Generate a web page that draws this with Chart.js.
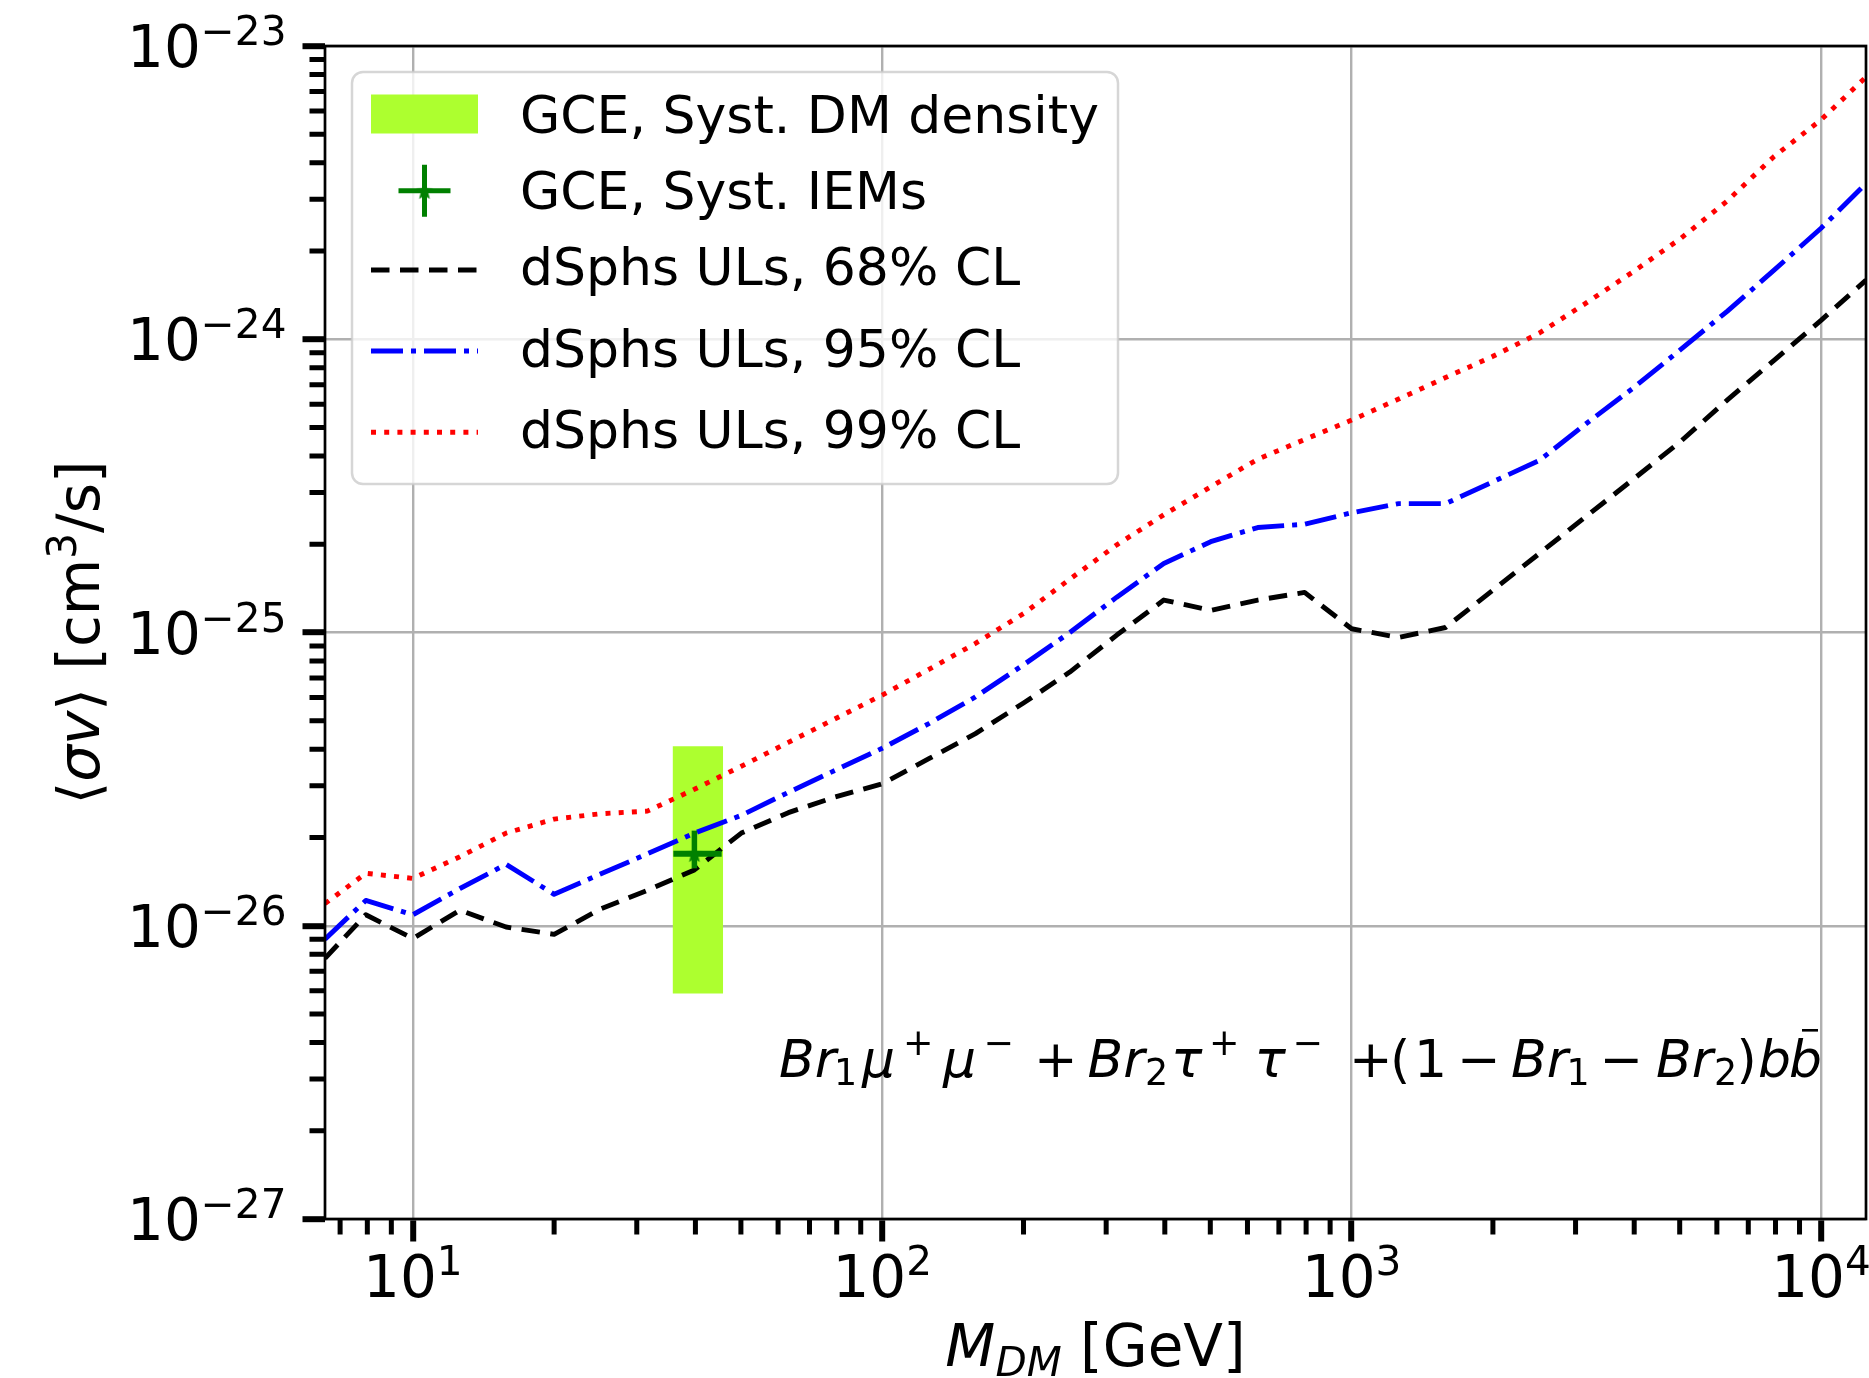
<!DOCTYPE html>
<html>
<head>
<meta charset="utf-8">
<title>dSphs ULs vs GCE</title>
<script src="https://cdn.jsdelivr.net/npm/chart.js@4.4.1/dist/chart.umd.min.js"></script>
<style>
  html, body { margin: 0; padding: 0; background: #fff; }
  #wrap { width: 1869px; height: 1378px; }
</style>
</head>
<body>
<div id="wrap"><canvas id="chart" width="1869" height="1378"></canvas></div>
<script>
// values (GeV, cm^3/s)
var masses = [6.5, 7.94, 10, 12.6, 15.8, 20, 25.1, 31.6, 39.8, 50.1, 63.1, 79.4, 100, 126, 158, 200, 251, 316,
  398, 501, 631, 794, 1000, 1259, 1585, 1995, 2512, 3162, 3981, 5012, 6310, 7943, 10000, 12470];

var ul68 = [7.75e-27, 1.09e-26, 9.05e-27, 1.13e-26, 9.9e-27, 9.35e-27, 1.14e-26, 1.32e-26, 1.55e-26, 2.07e-26,
  2.43e-26, 2.75e-26, 3.05e-26, 3.72e-26, 4.52e-26, 5.75e-26, 7.33e-26, 9.8e-26, 1.29e-25, 1.19e-25, 1.29e-25,
  1.37e-25, 1.03e-25, 9.62e-26, 1.04e-25, 1.39e-25, 1.86e-25, 2.49e-25, 3.33e-25, 4.47e-25, 6.2e-25, 8.47e-25,
  1.16e-24, 1.59e-24];

var ul95 = [9.0e-27, 1.22e-26, 1.09e-26, 1.34e-26, 1.62e-26, 1.28e-26, 1.5e-26, 1.76e-26, 2.07e-26, 2.38e-26,
  2.85e-26, 3.39e-26, 4.03e-26, 4.9e-26, 6.03e-26, 7.76e-26, 1.0e-25, 1.32e-25, 1.72e-25, 2.04e-25, 2.28e-25,
  2.34e-25, 2.56e-25, 2.75e-25, 2.75e-25, 3.26e-25, 3.86e-25, 5.16e-25, 6.82e-25, 9.2e-25, 1.245e-24, 1.72e-24,
  2.39e-24, 3.40e-24];

var ul99 = [1.19e-26, 1.51e-26, 1.45e-26, 1.72e-26, 2.07e-26, 2.31e-26, 2.41e-26, 2.46e-26, 2.92e-26, 3.5e-26,
  4.22e-26, 5.08e-26, 6.12e-26, 7.5e-26, 9.18e-26, 1.16e-25, 1.52e-25, 1.99e-25, 2.52e-25, 3.14e-25, 3.9e-25,
  4.55e-25, 5.3e-25, 6.25e-25, 7.4e-25, 8.73e-25, 1.05e-24, 1.33e-24, 1.70e-24, 2.2e-24, 2.96e-24, 4.2e-24,
  5.6e-24, 7.84e-24];

// GCE band (DM density systematics) and IEM error bar
var bandMass = [35.8, 45.8];
var bandSv = [5.87e-27, 4.09e-26];
var iemMass = 39.8;
var iemMassErr = [35.9, 45.5];
var iemSv = 1.76e-26;
var iemSvErr = [1.57e-26, 2.11e-26];

var xTickExps = [1, 2, 3, 4];
var yTickExps = [-27, -26, -25, -24, -23];
var xRange = [6.5, 12470];
var yRange = [1e-27, 1e-23];

var seriesLabels = ['GCE, Syst. DM density', 'GCE, Syst. IEMs', 'dSphs ULs, 68% CL', 'dSphs ULs, 95% CL', 'dSphs ULs, 99% CL'];

var FONT = '"DejaVu Sans", "Liberation Sans", sans-serif';
var GREEN = '#008000';
var LIME = '#adff2f';

function pts(xs, ys) {
  return xs.map(function (x, i) { return {x: x, y: ys[i]}; });
}

var starImg = (function () {
  var c = document.createElement('canvas');
  c.width = 20; c.height = 20;
  var g = c.getContext('2d');
  g.fillStyle = GREEN;
  g.beginPath();
  for (var i = 0; i < 10; i++) {
    var r = i % 2 ? 4 : 9.2;
    var a = -Math.PI / 2 + i * Math.PI / 5;
    g.lineTo(10 + r * Math.cos(a), 10.8 + r * Math.sin(a));
  }
  g.closePath();
  g.fill();
  return c;
})();

var lineStyles = [
  {label: seriesLabels[2], data: ul68, color: '#000000', dash: [18.5, 10.5]},
  {label: seriesLabels[3], data: ul95, color: '#0000ff', dash: [32, 8, 5, 8]},
  {label: seriesLabels[4], data: ul99, color: '#ff0000', dash: [5, 8.2]}
];

var datasets = [{
  label: seriesLabels[0],
  data: [
    {x: bandMass[0], y: bandSv[0]}, {x: bandMass[1], y: bandSv[0]},
    {x: bandMass[1], y: bandSv[1]}, {x: bandMass[0], y: bandSv[1]}
  ],
  showLine: true,
  fill: 'shape',
  backgroundColor: LIME,
  borderColor: 'rgba(0,0,0,0)',
  borderWidth: 0,
  pointRadius: 0,
  order: 10
}];

lineStyles.forEach(function (s) {
  datasets.push({
    label: s.label,
    data: pts(masses, s.data),
    showLine: true,
    borderColor: s.color,
    borderWidth: 4.9,
    borderDash: s.dash,
    borderJoinStyle: 'round',
    pointRadius: 0,
    fill: false,
    order: 5
  });
});

// error bar drawn as two short segments plus a star marker
datasets.push({
  label: seriesLabels[1],
  data: [{x: iemMassErr[0], y: iemSv}, {x: iemMassErr[1], y: iemSv}],
  showLine: true, borderColor: GREEN, borderWidth: 6, pointRadius: 0, fill: false, order: 1
});
datasets.push({
  label: seriesLabels[1],
  data: [{x: iemMass, y: iemSvErr[0]}, {x: iemMass, y: iemSvErr[1]}],
  showLine: true, borderColor: GREEN, borderWidth: 5.5, pointRadius: 0, fill: false, order: 1
});
datasets.push({
  label: seriesLabels[1],
  data: [{x: iemMass, y: iemSv}],
  pointStyle: starImg, pointRadius: 9, order: 0
});

// ---- text helpers (mathtext-like runs) ----
function fontOf(r) {
  return (r.it ? 'italic ' : '') + r.size + 'px ' + FONT;
}
function runsWidth(ctx, runs) {
  var w = 0;
  runs.forEach(function (r) {
    ctx.font = fontOf(r);
    w += ctx.measureText(r.t).width;
  });
  return w;
}
function drawRuns(ctx, runs, x, y) {
  runs.forEach(function (r) {
    ctx.font = fontOf(r);
    ctx.fillText(r.t, x, y + (r.dy || 0));
    x += ctx.measureText(r.t).width;
  });
}
function powerRuns(e, size) {
  return [
    {t: '10', size: size},
    {t: (e < 0 ? '\u2212' : '') + Math.abs(e), size: size * 0.7, dy: -size * 0.38}
  ];
}

var TICK_FS = 58, TITLE_FS = 58, LEG_FS = 52, NOTE_FS = 52;

// channel annotation: glyph runs with the ink start of each run (px from the left end)
var NOTE_X = 780, NOTE_Y = 1077;
var noteRuns = [
  ['Br', 'it', 0], ['1', 'sub', 58], ['\u03BC', 'it', 81], ['+', 'sup', 126], ['\u03BC', 'it', 162], ['\u2212', 'sup', 206.5],
  ['+', '', 259],
  ['Br', 'it', 308.5], ['2', 'sub', 367], ['\u03C4', 'it', 395], ['+', 'sup', 432], ['\u03C4', 'it', 478.5], ['\u2212', 'sup', 515.5],
  ['+', '', 574],
  ['(', '', 614], ['1', '', 639], ['\u2212', '', 682], ['Br', 'it', 732], ['1', 'sub', 790.5], ['\u2212', '', 824.5],
  ['Br', 'it', 877], ['2', 'sub', 936], [')', '', 960.5], ['b', 'it', 979], ['b', 'itbar', 1010]
];

function drawNote(ctx) {
  var S = NOTE_FS;
  noteRuns.forEach(function (r) {
    var kind = r[1];
    var small = kind === 'sub' || kind === 'sup';
    var size = small ? S * 0.7 : S;
    ctx.font = (kind.indexOf('it') === 0 ? 'italic ' : '') + size + 'px ' + FONT;
    var m = ctx.measureText(r[0]);
    var x = NOTE_X + r[2] + m.actualBoundingBoxLeft;
    var y = NOTE_Y + (kind === 'sub' ? 8 : kind === 'sup' ? -22 : 0);
    ctx.fillText(r[0], x, y);
    if (kind === 'itbar') {
      ctx.fillRect(NOTE_X + r[2] + 12, NOTE_Y - 48, 16, 2.6);
    }
  });
}

var axisDecor = {
  id: 'axisDecor',
  afterDatasetsDraw: function (chart) {
    var ctx = chart.ctx, a = chart.chartArea;
    ctx.save();
    ctx.lineWidth = 2.7;
    ctx.strokeStyle = '#000';
    ctx.strokeRect(a.left, a.top, a.right - a.left, a.bottom - a.top);
    ctx.restore();
  },
  afterDraw: function (chart) {
    var ctx = chart.ctx, a = chart.chartArea;
    var xs = chart.scales.x, ys = chart.scales.y;
    ctx.save();
    ctx.fillStyle = '#000';
    ctx.strokeStyle = '#000';

    // minor ticks
    ctx.lineWidth = 5;
    ctx.beginPath();
    for (var e = 0; e <= 4; e++) {
      for (var k = 2; k <= 9; k++) {
        var v = k * Math.pow(10, e);
        if (v <= xRange[0] || v >= xRange[1]) continue;
        var px = xs.getPixelForValue(v);
        ctx.moveTo(px, a.bottom);
        ctx.lineTo(px, a.bottom + 15.5);
      }
    }
    for (var ey = yTickExps[0]; ey < yTickExps[yTickExps.length - 1]; ey++) {
      for (var ky = 2; ky <= 9; ky++) {
        var py = ys.getPixelForValue(ky * Math.pow(10, ey));
        ctx.moveTo(a.left, py);
        ctx.lineTo(a.left - 15.5, py);
      }
    }
    ctx.stroke();

    // tick labels
    ctx.textBaseline = 'alphabetic';
    ctx.textAlign = 'left';
    xTickExps.forEach(function (e) {
      var runs = powerRuns(e, TICK_FS);
      var w = runsWidth(ctx, runs);
      drawRuns(ctx, runs, xs.getPixelForValue(Math.pow(10, e)) - w / 2, 1297);
    });
    yTickExps.forEach(function (e) {
      var runs = powerRuns(e, TICK_FS);
      var w = runsWidth(ctx, runs);
      var py = ys.getPixelForValue(Math.pow(10, e));
      drawRuns(ctx, runs, a.left - 38.5 - w, py + TICK_FS * 0.729 / 2);
    });

    // x title
    var xt = [
      {t: 'M', size: TITLE_FS, it: true},
      {t: 'DM', size: TITLE_FS * 0.7, it: true, dy: 10},
      {t: ' [GeV]', size: TITLE_FS}
    ];
    drawRuns(ctx, xt, (a.left + a.right) / 2 - runsWidth(ctx, xt) / 2, 1366);

    // y title
    var yt = [
      {t: '\u27E8', size: TITLE_FS},
      {t: '\u03C3v', size: TITLE_FS, it: true},
      {t: '\u27E9 [cm', size: TITLE_FS},
      {t: '3', size: TITLE_FS * 0.7, dy: -TITLE_FS * 0.4},
      {t: '/s]', size: TITLE_FS}
    ];
    ctx.save();
    ctx.translate(99, (a.top + a.bottom) / 2);
    ctx.rotate(-Math.PI / 2);
    drawRuns(ctx, yt, -runsWidth(ctx, yt) / 2, 0);
    ctx.restore();

    drawNote(ctx);
    drawLegend(ctx);
    ctx.restore();
  }
};

function roundBox(ctx, x, y, w, h, r) {
  ctx.beginPath();
  ctx.moveTo(x + r, y);
  ctx.lineTo(x + w - r, y);
  ctx.arcTo(x + w, y, x + w, y + r, r);
  ctx.lineTo(x + w, y + h - r);
  ctx.arcTo(x + w, y + h, x + w - r, y + h, r);
  ctx.lineTo(x + r, y + h);
  ctx.arcTo(x, y + h, x, y + h - r, r);
  ctx.lineTo(x, y + r);
  ctx.arcTo(x, y, x + r, y, r);
  ctx.closePath();
}

function drawLegend(ctx) {
  var rows = [114, 190.7, 270, 351, 432.3];
  var baselines = [132.7, 209.3, 285, 366.7, 448.3];
  var hx0 = 371, hx1 = 478, hc = (hx0 + hx1) / 2, tx = 520;
  ctx.save();
  roundBox(ctx, 352, 72, 766, 412, 11);
  ctx.fillStyle = 'rgba(255,255,255,0.8)';
  ctx.fill();
  ctx.lineWidth = 2.5;
  ctx.strokeStyle = 'rgba(204,204,204,0.8)';
  ctx.stroke();

  // band handle
  ctx.fillStyle = LIME;
  ctx.fillRect(hx0, rows[0] - 19.5, hx1 - hx0, 39);

  // error bar handle
  ctx.strokeStyle = GREEN;
  ctx.lineWidth = 5;
  ctx.beginPath();
  ctx.moveTo(hc - 26, rows[1]); ctx.lineTo(hc + 26, rows[1]);
  ctx.moveTo(hc, rows[1] - 26); ctx.lineTo(hc, rows[1] + 26);
  ctx.stroke();
  ctx.drawImage(starImg, hc - 10, rows[1] - 10);

  // line handles
  lineStyles.forEach(function (s, i) {
    var y = rows[i + 2];
    ctx.strokeStyle = s.color;
    ctx.lineWidth = 4.9;
    ctx.setLineDash(s.dash);
    ctx.beginPath();
    ctx.moveTo(hx0, y); ctx.lineTo(hx1, y);
    ctx.stroke();
  });
  ctx.setLineDash([]);

  ctx.fillStyle = '#000';
  ctx.font = LEG_FS + 'px ' + FONT;
  seriesLabels.forEach(function (t, i) {
    ctx.fillText(t, tx, baselines[i]);
  });
  ctx.restore();
}

function majorTicks(exps) {
  return function (scale) {
    scale.ticks = exps.map(function (e) { return {value: Math.pow(10, e), major: true}; });
  };
}

Chart.defaults.font.family = FONT;

new Chart(document.getElementById('chart'), {
  type: 'scatter',
  data: {datasets: datasets},
  options: {
    responsive: false,
    animation: false,
    events: [],
    layout: {autoPadding: false, padding: {top: 46, right: 3, left: 0, bottom: 0}},
    plugins: {legend: {display: false}, tooltip: {enabled: false}},
    scales: {
      x: {
        type: 'logarithmic',
        min: xRange[0],
        max: xRange[1],
        bounds: 'data',
        afterBuildTicks: majorTicks(xTickExps),
        afterFit: function (s) { s.height = 159; },
        ticks: {display: false},
        border: {display: false},
        grid: {color: '#b0b0b0', lineWidth: 2.4, drawTicks: true, tickLength: 22.5, tickWidth: 6, tickColor: '#000'}
      },
      y: {
        type: 'logarithmic',
        min: yRange[0],
        max: yRange[1],
        bounds: 'data',
        afterBuildTicks: majorTicks(yTickExps),
        afterFit: function (s) { s.width = 325; },
        ticks: {display: false},
        border: {display: false},
        grid: {color: '#b0b0b0', lineWidth: 2.4, drawTicks: true, tickLength: 22.5, tickWidth: 6, tickColor: '#000'}
      }
    }
  },
  plugins: [axisDecor]
});
</script>
</body>
</html>
